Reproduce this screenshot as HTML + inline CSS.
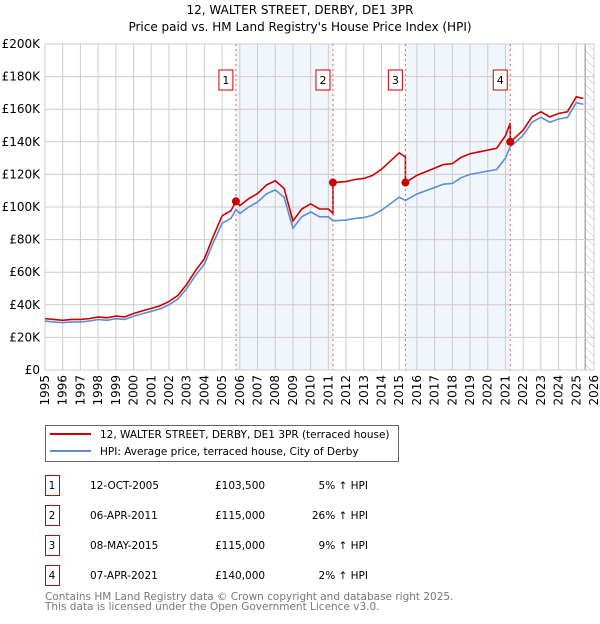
<!DOCTYPE html>
<html><head><meta charset="utf-8"><style>
body{margin:0;background:#fff;font-family:"DejaVu Sans","Liberation Sans",sans-serif;}
svg text{font-family:"DejaVu Sans","Liberation Sans",sans-serif;}
</style></head><body>
<svg id="c" width="600" height="620" viewBox="0 0 600 620" xmlns="http://www.w3.org/2000/svg">
<defs><pattern id="hatch" width="6" height="6" patternUnits="userSpaceOnUse" patternTransform="rotate(-45)"><line x1="0" y1="0" x2="0" y2="6" stroke="#bbb" stroke-width="1"/></pattern></defs>
<text x="300" y="14" text-anchor="middle" font-size="12">12, WALTER STREET, DERBY, DE1 3PR</text>
<text x="300" y="31" text-anchor="middle" font-size="12">Price paid vs. HM Land Registry's House Price Index (HPI)</text>
<g id="plot"></g>
<g>
<rect x="45.5" y="425.5" width="353" height="36" fill="#fff" stroke="#666"/>
<line x1="50" y1="434" x2="91" y2="434" stroke="#cc0000" stroke-width="2"/>
<text x="100" y="438" font-size="10.5">12, WALTER STREET, DERBY, DE1 3PR (terraced house)</text>
<line x1="50" y1="451" x2="91" y2="451" stroke="#5b8fd0" stroke-width="2"/>
<text x="100" y="455" font-size="10.5">HPI: Average price, terraced house, City of Derby</text>
</g>
<g id="table" font-size="10.5"></g>
<text x="45" y="600" font-size="10.5" fill="#777">Contains HM Land Registry data © Crown copyright and database right 2025.</text>
<text x="45" y="610" font-size="10.5" fill="#777">This data is licensed under the Open Government Licence v3.0.</text>
</svg>
<script>
const hpiYears=[1995,1995.5,1996,1996.5,1997,1997.5,1998,1998.5,1999,1999.5,2000,2000.5,2001,2001.5,2002,2002.5,2003,2003.5,2004,2004.5,2005,2005.5,2005.78,2006,2006.5,2007,2007.5,2008,2008.5,2009,2009.5,2010,2010.5,2011,2011.26,2012,2012.5,2013,2013.5,2014,2014.5,2015,2015.35,2016,2016.5,2017,2017.5,2018,2018.5,2019,2019.5,2020,2020.5,2021,2021.27,2021.6,2022,2022.5,2023,2023.5,2024,2024.5,2025,2025.4];
const hpiValues=[30,29.5,29,29.5,29.5,30,31,30.5,31.5,31,33,34.5,36,37.5,40,43.5,50,58,65,78,90,93,98.5,96,100,103,108,110.5,106,87,94,97,94,94,91.5,92,93,93.5,95,98,102,106,104,108,110,112,114,114.5,118,120,121,122,123,130,137,140,144,152,155,152,154,155,164,163];
const saleYears=[2005.78,2011.26,2015.35,2021.27];
const salePrices=[103.5,115,115,140];
const saleLabels=["1","2","3","4"];
const saleDates=["12-OCT-2005","06-APR-2011","08-MAY-2015","07-APR-2021"];
const salePriceText=["£103,500","£115,000","£115,000","£140,000"];
const salePct=["5% ↑ HPI","26% ↑ HPI","9% ↑ HPI","2% ↑ HPI"];
const yTicks=[0,20,40,60,80,100,120,140,160,180,200];
const xTicks=[1995,1996,1997,1998,1999,2000,2001,2002,2003,2004,2005,2006,2007,2008,2009,2010,2011,2012,2013,2014,2015,2016,2017,2018,2019,2020,2021,2022,2023,2024,2025,2026];
const dataEnd=2025.5;
const X0=45,X1=594,Y0=370,Y1=44;
const xs=y=>X0+(y-1995)/(2026-1995)*(X1-X0);
const ys=v=>Y0-v/200*(Y0-Y1);
const NS="http://www.w3.org/2000/svg";
const plot=document.getElementById('plot');
function mk(tag,attrs,parent){const e=document.createElementNS(NS,tag);for(const k in attrs)e.setAttribute(k,attrs[k]);(parent||plot).appendChild(e);return e;}
mk('rect',{x:X0,y:Y1,width:X1-X0,height:Y0-Y1,fill:'#fff'});
for(let i=0;i<saleYears.length;i+=2){const r=mk('rect',{x:xs(saleYears[i]),y:Y1,width:xs(saleYears[i+1])-xs(saleYears[i]),height:Y0-Y1,fill:'#eef2fb',opacity:0.8});

}
const h=mk('rect',{x:xs(dataEnd),y:Y1,width:X1-xs(dataEnd),height:Y0-Y1,fill:'url(#hatch)'});


mk('line',{x1:xs(dataEnd),y1:Y1,x2:xs(dataEnd),y2:Y0,stroke:'#888'});
yTicks.forEach(v=>{mk('line',{x1:X0,y1:ys(v),x2:X1,y2:ys(v),stroke:'#ccc'});
const t=mk('text',{x:X0-5,y:ys(v)+4,'text-anchor':'end','font-size':12});t.textContent='£'+(v?v+'K':'0');

});
xTicks.forEach(y=>{mk('line',{x1:xs(y),y1:Y1,x2:xs(y),y2:Y0,stroke:'#ccc'});
const t=mk('text',{transform:`translate(${xs(y)+4},${Y0+5}) rotate(-90)`,'text-anchor':'end','font-size':12});t.textContent=y;

});
mk('rect',{x:X0,y:Y1,width:X1-X0,height:Y0-Y1,fill:'none',stroke:'#ccc'});
function hpiAt(y){for(let i=0;i<hpiYears.length-1;i++){if(y<=hpiYears[i+1]){const t=(y-hpiYears[i])/(hpiYears[i+1]-hpiYears[i]);return hpiValues[i]+t*(hpiValues[i+1]-hpiValues[i]);}}return hpiValues[hpiValues.length-1];}
const hp=mk('polyline',{points:hpiYears.map((y,i)=>xs(y)+','+ys(hpiValues[i])).join(' '),fill:'none',stroke:'#5b8fd0','stroke-width':1.6});


const factors=saleYears.map((y,i)=>salePrices[i]/hpiAt(y));
function fac(y){let f=factors[0];for(let i=0;i<saleYears.length;i++)if(y>=saleYears[i])f=factors[i];return f;}
let pts=[];
hpiYears.forEach((y,i)=>{const si=saleYears.indexOf(y);if(si>0){pts.push(xs(y)+','+ys(hpiValues[i]*factors[si-1]));}pts.push(xs(y)+','+ys(hpiValues[i]*fac(y)));});
const rp=mk('polyline',{points:pts.join(' '),fill:'none',stroke:'#cc0000','stroke-width':1.6});


saleYears.forEach((y,i)=>{
const l=mk('line',{x1:xs(y),y1:Y1,x2:xs(y),y2:Y0,stroke:'#e06666','stroke-dasharray':'2,3'});


const c=mk('circle',{cx:xs(y),cy:ys(salePrices[i]),r:4,fill:'#cc0000'});


const b=mk('rect',{x:xs(y)-17,y:70,width:14,height:20,fill:'#fff',stroke:'#cc0000'});


const t=mk('text',{x:xs(y)-10,y:84,'text-anchor':'middle','font-size':11});t.textContent=saleLabels[i];

});
const tb=document.getElementById('table');
saleLabels.forEach((s,i)=>{const yy=475+i*30;
const b=mk('rect',{x:45.5,y:yy+0.5,width:14,height:20,fill:'#fff',stroke:'#cc0000'},tb);


const cols=[[52,s,'middle'],[90,saleDates[i],'start'],[215,salePriceText[i],'start'],[368,salePct[i],'end']];
cols.forEach(c=>{const t=mk('text',{x:c[0],y:yy+14,'text-anchor':c[2]},tb);t.textContent=c[1];

});});
</script>
</body></html>
